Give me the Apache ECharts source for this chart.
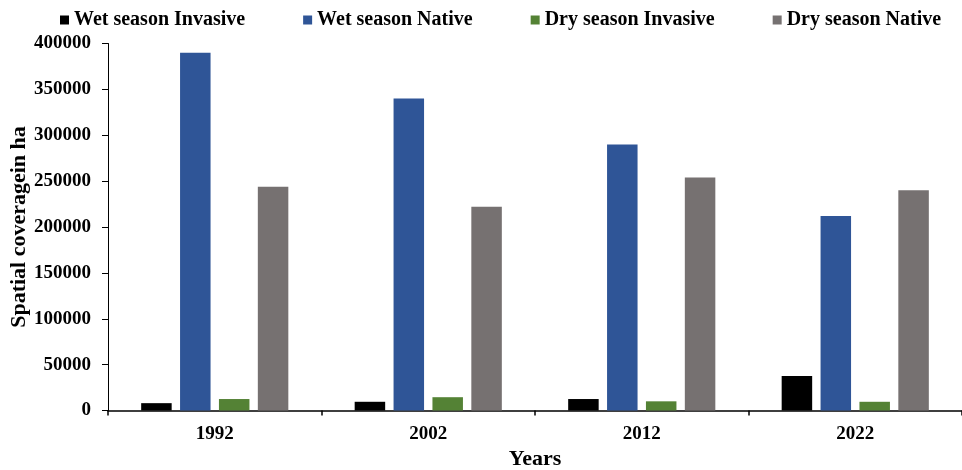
<!DOCTYPE html>
<html>
<head>
<meta charset="utf-8">
<script src="https://cdn.jsdelivr.net/npm/echarts@6/dist/echarts.min.js"></script>
<style>
  html, body { margin: 0; padding: 0; background: #fff; }
  #chart { width: 962px; height: 470px; }
</style>
</head>
<body>
<div id="chart"></div>
<script>
// Spatial coverage (ha) of invasive and native vegetation by season
const years = ['1992', '2002', '2012', '2022'];
const wetInvasive = [8000, 9500, 12500, 37500];
const wetNative = [390000, 340000, 290000, 212000];
const dryInvasive = [12500, 14500, 10000, 9500];
const dryNative = [244000, 222000, 254000, 240000];
const yTicks = { min: 0, max: 400000, interval: 50000 };

const serif = '"Liberation Serif", "Times New Roman", serif';

const chart = echarts.init(document.getElementById('chart'), null, { renderer: 'canvas' });

function bar(name, data, color) {
  return {
    name: name,
    type: 'bar',
    data: data,
    barWidth: 30.5,
    barGap: '27.5%',
    itemStyle: { color: color },
    emphasis: { disabled: true }
  };
}

chart.setOption({
  animation: false,
  backgroundColor: '#ffffff',
  textStyle: { fontFamily: serif },
  legend: {
    top: 5,
    left: 55,
    itemWidth: 9,
    itemHeight: 9,
    itemGap: 58,
    icon: 'rect',
    textStyle: { fontFamily: serif, fontWeight: 'bold', fontSize: 20, color: '#000' },
    data: ['Wet season Invasive', 'Wet season Native', 'Dry season Invasive', 'Dry season Native']
  },
  grid: { left: 108, right: 0, top: 43.5, bottom: 59.5, containLabel: false, outerBoundsMode: 'none' },
  xAxis: {
    type: 'category',
    data: years,
    name: 'Years',
    nameLocation: 'middle',
    nameGap: 38,
    nameMoveOverlap: false,
    nameTextStyle: { fontFamily: serif, fontWeight: 'bold', fontSize: 22, color: '#000' },
    axisLine: { lineStyle: { color: '#000', width: 1.5 } },
    axisTick: { show: true, inside: false, length: 5, alignWithLabel: false, lineStyle: { color: '#000', width: 1.5 } },
    axisLabel: { margin: 14, fontFamily: serif, fontWeight: 'bold', fontSize: 19, color: '#000' },
    splitLine: { show: false }
  },
  yAxis: {
    type: 'value',
    min: yTicks.min,
    max: yTicks.max,
    interval: yTicks.interval,
    name: 'Spatial coveragein ha',
    nameLocation: 'middle',
    nameGap: 78,
    nameRotate: 90,
    nameMoveOverlap: false,
    nameTextStyle: { fontFamily: serif, fontWeight: 'bold', fontSize: 22, color: '#000' },
    axisLine: { show: true, lineStyle: { color: '#000', width: 1 } },
    axisTick: { show: true, inside: false, length: 6, lineStyle: { color: '#000', width: 1 } },
    axisLabel: {
      margin: 17,
      fontFamily: serif,
      fontWeight: 'bold',
      fontSize: 19,
      color: '#000',
      formatter: function (v) { return String(v); }
    },
    splitLine: { show: false }
  },
  series: [
    bar('Wet season Invasive', wetInvasive, '#000000'),
    bar('Wet season Native', wetNative, '#2F5597'),
    bar('Dry season Invasive', dryInvasive, '#548235'),
    bar('Dry season Native', dryNative, '#767171')
  ]
});
</script>
</body>
</html>
